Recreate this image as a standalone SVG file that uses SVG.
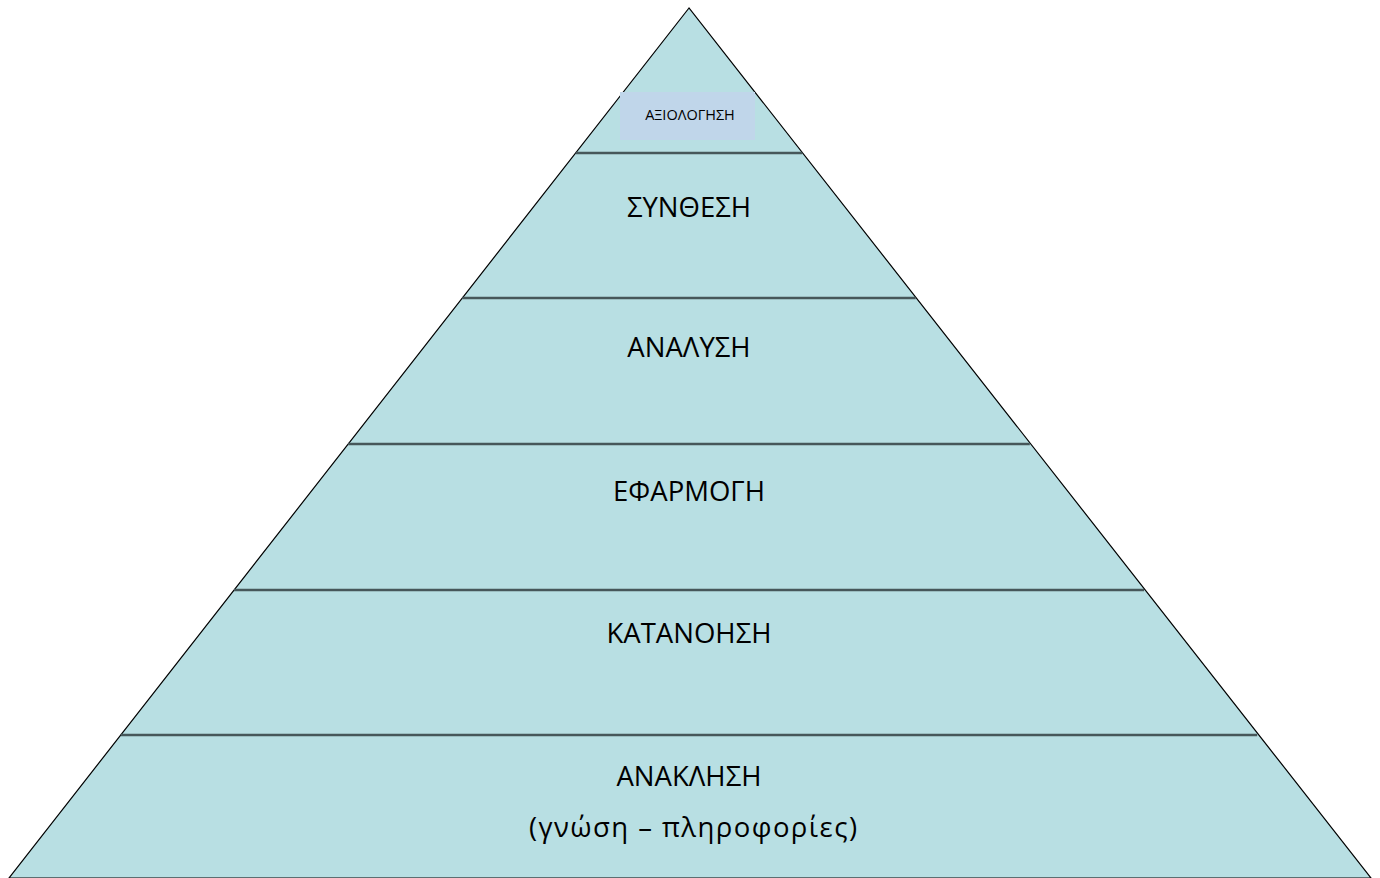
<svg xmlns="http://www.w3.org/2000/svg" width="1380" height="878" viewBox="0 0 1380 878">
<style>
.lbl{font-family:"Open Sans","Noto Sans","Liberation Sans",sans-serif;font-size:27.5px;fill:#000;text-anchor:middle}
.div{stroke:#46575a;stroke-width:2.5}
</style>
<rect width="1380" height="878" fill="#fff"/>
<g id="pyramid">
<polygon points="689,8 9,878 1371,878" fill="#b8dfe3" stroke="#000" stroke-width="1.2"/>
</g>
<g id="connectors">
<line class="div" x1="575.7" y1="153" x2="802.3" y2="153"/>
<line class="div" x1="462.3" y1="298" x2="915.7" y2="298"/>
<line class="div" x1="348.2" y1="444" x2="1029.8" y2="444"/>
<line class="div" x1="234" y1="590" x2="1144" y2="590"/>
<line class="div" x1="120.8" y1="735" x2="1257.2" y2="735"/>
</g>
<g id="n-axiologisi">
<rect x="620" y="92" width="135" height="48" fill="#c0d6ea"/>
<text x="690" y="120" class="lbl" style="font-size:14.5px">ΑΞΙΟΛΟΓΗΣΗ</text>
</g>
<g id="n-synthesi"><text x="689" y="217" class="lbl">ΣΥΝΘΕΣΗ</text></g>
<g id="n-analysi"><text x="689" y="357" class="lbl">ΑΝΑΛΥΣΗ</text></g>
<g id="n-efarmogi"><text x="689" y="501" class="lbl">ΕΦΑΡΜΟΓΗ</text></g>
<g id="n-katanoisi"><text x="689" y="643" class="lbl">ΚΑΤΑΝΟΗΣΗ</text></g>
<g id="n-anaklisi">
<text x="689" y="786" class="lbl">ΑΝΑΚΛΗΣΗ</text>
<text x="693" y="837" class="lbl" textLength="328" lengthAdjust="spacing">(γνώση – πληροφορίες)</text>
</g>
</svg>
